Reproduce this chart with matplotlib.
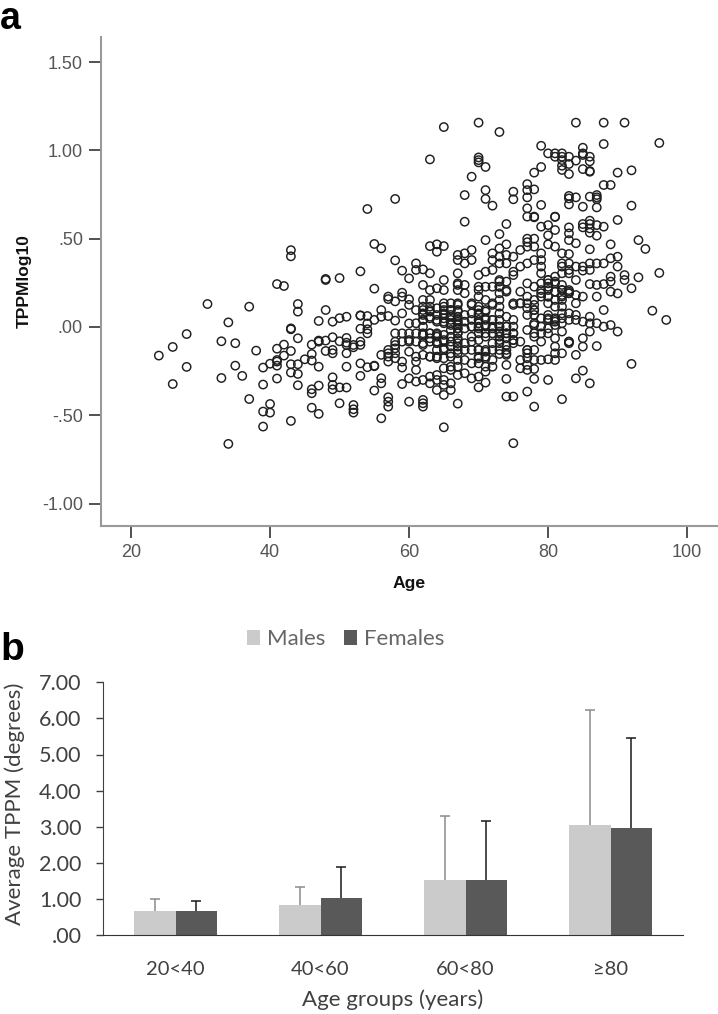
import numpy as np
import matplotlib
matplotlib.use("Agg")
import matplotlib.pyplot as plt

W = 718
H = 1014

ages = [24, 26, 28, 31, 33, 34, 35, 36, 37, 38, 39, 40, 41, 42, 43, 44, 45, 46, 47, 48, 49, 50,
        51, 52, 53, 54, 55, 56, 57, 58, 59, 60, 61, 62, 63, 64, 65, 66, 67, 68, 69, 70, 71, 72,
        73, 74, 75, 76, 77, 78, 79, 80, 81, 82, 83, 84, 85, 86, 87, 88, 89, 90, 91, 92, 93, 94,
        95, 96, 97]
tppm_by_age = [
    [-.162],
    [-.113, -.323],
    [-.04, -.226],
    [.13],
    [-.081, -.289],
    [.026, -.662],
    [-.092, -.219],
    [-.277],
    [.115, -.408],
    [-.134],
    [-.23, -.326, -.479, -.564],
    [-.208, -.436, -.485],
    [.243, -.123, -.187, -.196, -.219, -.292],
    [.232, -.1, -.162],
    [.435, .40, -.013, -.008, -.136, -.211, -.258, -.532],
    [.13, .087, -.064, -.211, -.266, -.33],
    [-.183],
    [-.1, -.153, -.19, -.353, -.375, -.457],
    [.034, -.077, -.083, -.225, -.332, -.492],
    [.272, .266, .096, -.077, -.136],
    [.03, -.058, -.13, -.149, -.285, -.328, -.353],
    [.277, .05, -.081, -.342, -.432],
    [.058, -.062, -.089, -.102, -.149, -.225, -.343],
    [-.102, -.115, -.442, -.466, -.485],
    [.315, .064, .066, -.01, -.083, -.102, -.206, -.277],
    [.668, .062, .02, -.013, -.036, -.228],
    [.47, .217, .04, -.219, -.222, -.36],
    [.445, .096, .058, -.158, -.29, -.319, -.517],
    [.172, .158, .062, -.13, -.149, -.168, -.196, -.398, -.423, -.451],
    [.725, .377, .145, .036, -.036, -.083, -.102, -.121, -.149, -.177],
    [.319, .194, .172, .077, -.036, -.083, -.196, -.23, -.323],
    [.275, .157, .125, .02, -.036, -.074, -.083, -.14, -.291, -.423],
    [.36, .323, .096, .021, -.036, -.083, -.168, -.196, -.243, -.309],
    [.326, .238, .096, .068, .04, -.036, -.092, -.158, -.3, -.413, -.432, -.451,
     .153, .115, .077, .04, .002, -.045, -.102],
    [.949, .458, .304, .209, .096, .049, -.036, -.083, -.168, -.281, -.319,
     .153, .115, .087, .058, -.036, -.064, -.168],
    [.468, .426, .219, .106, .068, .03, -.036, -.055, -.092, -.168, -.272, -.3, -.357,
     .04, -.045, -.083, -.13, -.177],
    [1.132, .458, .266, .209, .134, .096, .068, .03, -.074, -.13, -.177, -.234, -.3, -.328, -.385, -.568,
     .115, .077, .049, .021, -.045, -.083, -.121],
    [.096, .068, .04, .011, -.083, -.149, -.243, -.319, -.357,
     .134, .096, .058, .021, -.017, -.055, -.111, -.168, -.225],
    [.408, .379, .304, .238, .209, .134, .096, .04, .021, -.008, -.036, -.074, -.111, -.149, -.187, -.225, -.272, -.434,
     .247, .125, .087, .058, .03, .011, -.008, -.036, -.064, -.092, -.13],
    [.747, .596, .417, .36, .238, .191, .068, .03, -.008, -.092, -.13, -.187, -.262],
    [.851, .436, .379, .125, .077, .04, .002, -.083, -.206, -.291, .134, .002, -.055, -.13],
    [1.157, .96, .945, .932, .294, .228, .096, .068, .021, -.008, -.13, -.177, -.206, -.281, -.342,
     .209, .172, .115, .077, .04, .002, -.036, -.074, -.13, -.168],
    [.906, .775, .725, .492, .313, .228, .087, .049, .011, -.036, -.14, -.177, -.225, -.253, -.315,
     .153, .096, .04, .002, -.055, -.13, -.168],
    [.687, .417, .379, .323, .228, .125, .04, -.008, -.092, -.225, .134, .04, .002, -.036, -.13, -.187],
    [1.104, .526, .445, .398, .36, .257, .228, .077, .04, .002, -.036, -.074,
     .266, .228, .191, .153, .115, .002, -.026, -.055, -.092, -.13, -.153],
    [.583, .468, .408, .36, .257, .2, .058, .002, -.036, -.13, -.158, -.215, -.294, -.394,
     .209, .002, -.036, -.064, -.102, -.149],
    [.766, .723, .398, .313, .294, .125, .002, -.036, -.074, -.092, -.394, -.658, .134, .04, -.036, -.074],
    [.436, .342, .2, .134, -.083, -.187, -.234, .134],
    [.809, .775, .734, .672, .625, .5, .48, .455, .36, .247, -.017, -.13, -.177, -.215, -.243, -.366,
     .172, .134, .106, .068, -.13, -.149],
    [.874, .779, .625, .621, .5, .455, .379, .228, .096, .011, -.13, -.187, -.238, -.294, -.451,
     .153, .125, .096, .068, .021, -.036, -.055],
    [1.026, .906, .691, .568, .417, .379, .342, .304, .191, .002, -.036, -.083, -.187, .247, .209, .172, .049],
    [.983, .577, .519, .468, .266, .228, .172, .049, -.008, -.036, -.183, -.3,
     .266, .247, .209, .172, .134, .068, .04],
    [.983, .964, .625, .623, .549, .455, .285, .257, .2, .04, .011, -.064, -.111, -.149, -.187,
     .247, .2, .153, .115, .049, .03],
    [.983, .964, .945, .913, .889, .417, .36, .342, .304, .238, .209, .172, .021, -.026, -.149, -.409,
     .209, .181, .153, .115, .077, .049],
    [.964, .923, .866, .742, .728, .694, .564, .53, .492, .413, .36, .323, .304, .2, .191, .04, -.083, -.092,
     .209, .191, .077, -.083],
    [1.157, .942, .734, .474, .342, .266, .068, -.158, -.291, .181, .134, .04],
    [1.015, .983, .974, .894, .681, .583, .564, .342, .319, .03, -.064, -.111, -.247, .172],
    [.964, .938, .883, .879, .738, .602, .583, .558, .534, .44, .36, .323, .243, .058, .021, -.026, -.319],
    [.747, .734, .723, .677, .577, .517, .36, .238, .172, .021, -.108],
    [1.157, 1.036, .804, .568, .36, .243, .096, .002],
    [.804, .468, .389, .285, .257, .2, .011],
    [.874, .606, .398, .342, .19, -.026],
    [1.157, .294, .266],
    [.887, .687, .219, -.209],
    [.492, .281],
    [.442],
    [.092],
    [1.042, .306],
    [.04],
]

age_ticks = [20, 40, 60, 80, 100]
tppm_ticks = [-1.0, -.5, 0, .5, 1.0, 1.5]
tppm_labels = ["-1.00", "-.50", ".00", ".50", "1.00", "1.50"]

groups = ["20<40", "40<60", "60<80", "≥80"]
males = [.66, .83, 1.53, 3.06]
females = [.66, 1.03, 1.52, 2.97]
males_top = [1.0, 1.32, 3.31, 6.23]
females_top = [.94, 1.88, 3.16, 5.46]
bar_ticks = [0, 1, 2, 3, 4, 5, 6, 7]
bar_labels = [".00", "1.00", "2.00", "3.00", "4.00", "5.00", "6.00", "7.00"]

fig = plt.figure(figsize=(W / 100, H / 100), dpi=100)

# panel a
ax = fig.add_axes([101 / W, 1 - 526 / H, 616 / W, 489 / H])
x = np.repeat(ages, [len(v) for v in tppm_by_age])
y = np.concatenate(tppm_by_age)
ax.scatter(x, y, s=36, facecolors="none", edgecolors="#1f1f1f", linewidths=1.05)
ax.set_xlim(15.68, 104.3)
ax.set_ylim(-1.127, 1.642)
ax.set_xticks(age_ticks)
ax.set_yticks(tppm_ticks)
ax.set_yticklabels(tppm_labels)
ax.tick_params(length=8.5, width=1.1, color="#222222", labelsize=13, labelcolor="#555555", pad=4.5)
for label in ax.get_xticklabels() + ax.get_yticklabels():
    label.set_fontfamily("Liberation Sans")
ax.spines["top"].set_visible(False)
ax.spines["right"].set_visible(False)
ax.spines["left"].set_color("#999999")
ax.spines["bottom"].set_color("#999999")
ax.spines["left"].set_linewidth(1.5)
ax.spines["bottom"].set_linewidth(1.5)
ax.set_xlabel("Age", family="Liberation Sans", weight="bold", fontsize=12.6, labelpad=11, color="#111111")
ax.set_ylabel("TPPMlog10", family="Liberation Sans", weight="bold", fontsize=12.5, labelpad=7, color="#111111")

# panel b
ax2 = fig.add_axes([103 / W, 1 - 935 / H, 580 / W, 252.7 / H])
pos = np.arange(len(groups))
w = 0.287
ax2.bar(pos - w / 2, males, w, color="#cbcbcb", label="Males")
ax2.bar(pos + w / 2, females, w, color="#595959", label="Females")
ax2.vlines(pos - w / 2, males, males_top, color="#8c8c8c", linewidth=1.1)
ax2.vlines(pos + w / 2, females, females_top, color="#1a1a1a", linewidth=1.1)
ax2.plot(pos - w / 2, males_top, ls="none", marker="_", ms=7.5, mew=1.1, color="#8c8c8c")
ax2.plot(pos + w / 2, females_top, ls="none", marker="_", ms=7.5, mew=1.1, color="#1a1a1a")
ax2.set_xlim(-0.5, 3.5)
ax2.set_ylim(0, 7)
ax2.set_xticks(pos)
ax2.set_xticklabels(groups)
ax2.set_yticks(bar_ticks)
ax2.set_yticklabels(bar_labels)
ax2.tick_params(axis="y", length=5, width=1, color="#404040", labelsize=15.5, labelcolor="#404040", pad=10.5)
ax2.tick_params(axis="x", length=0, labelsize=14.5, labelcolor="#404040", pad=19)
for label in ax2.get_xticklabels() + ax2.get_yticklabels():
    label.set_fontfamily("Lato")
ax2.spines["top"].set_visible(False)
ax2.spines["right"].set_visible(False)
ax2.spines["left"].set_color("#404040")
ax2.spines["bottom"].set_color("#333333")
ax2.set_xlabel("Age groups (years)", family="Lato", fontsize=16, color="#404040", labelpad=8)
ax2.set_ylabel("Average TPPM (degrees)", family="Lato", fontsize=16, color="#404040", labelpad=10, y=0.52)
ax2.legend(loc="lower center", bbox_to_anchor=(0.418, 1.13), ncol=2, frameon=False,
           prop={"family": "Lato", "size": 16}, labelcolor="#666666", handlelength=0.6,
           handleheight=0.7, handletextpad=0.3, columnspacing=0.85, borderpad=0, borderaxespad=0)

fig.text(0, 1 - 29 / H, "a", family="Liberation Sans", weight="bold", fontsize=27, color="black")
fig.text(0, 1 - 660 / H, "b", family="Liberation Sans", weight="bold", fontsize=28, color="black")

fig.savefig("out.png", dpi=100)
